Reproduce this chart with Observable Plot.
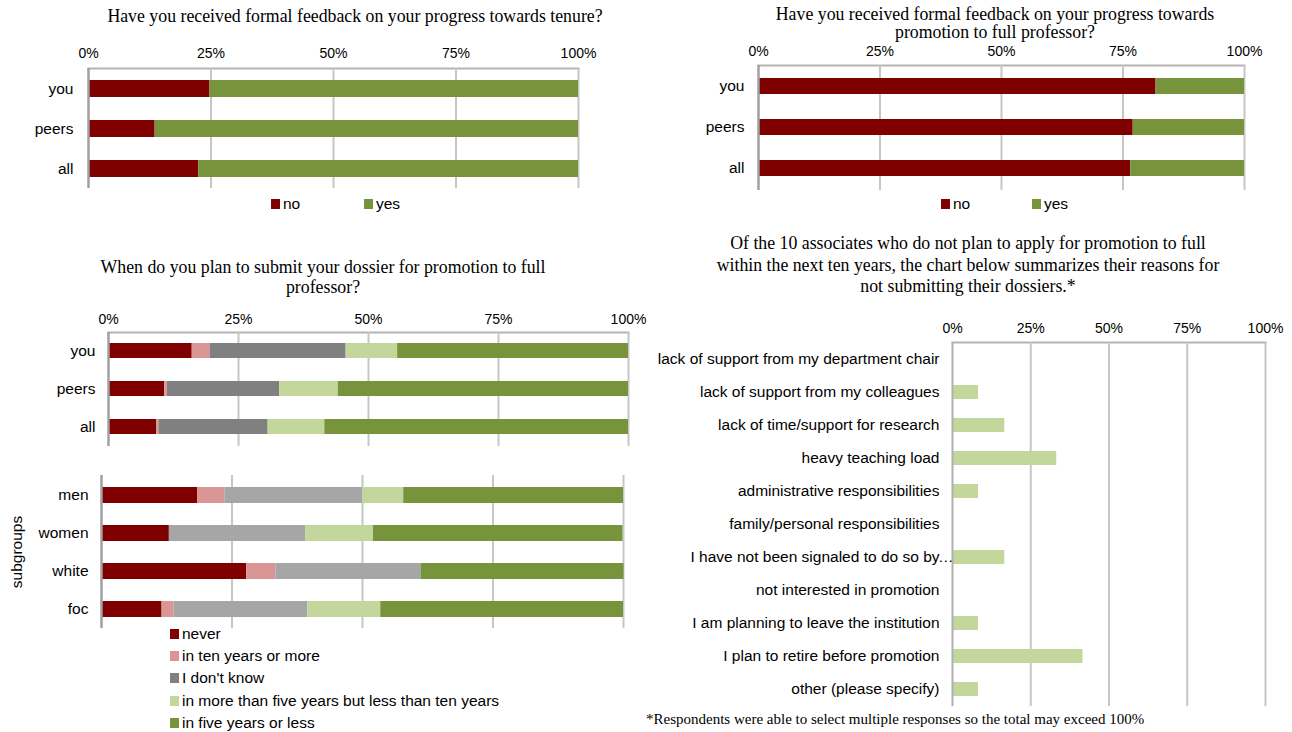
<!DOCTYPE html>
<html><head><meta charset="utf-8">
<script src="https://cdn.jsdelivr.net/npm/d3@7"></script>
<script src="https://cdn.jsdelivr.net/npm/@observablehq/plot@0.6"></script>
<style>
body{margin:0;background:#fff;}
#root{position:relative;width:1292px;height:732px;overflow:hidden;background:#fff;font-family:"Liberation Sans",Arial,sans-serif;color:#000;}
.title{position:absolute;font-family:"Liberation Serif","Times New Roman",serif;font-size:17.8px;text-align:center;color:#000;white-space:nowrap;}
.leg{position:absolute;font-size:15.5px;display:flex;align-items:center;white-space:nowrap;line-height:16px;height:16px;}
.sw{display:inline-block;width:9px;height:10px;margin-right:3px;}
.plot{position:absolute;}
</style></head><body><div id="root"></div>
<script>
// ---------- data ----------
const groups = ["you", "peers", "all"];
const answers = ["no", "yes"];
const answerColors = ["#800000", "#77933c"];
const tenureNo = [24.8, 13.6, 22.5];
const tenureYes = [75.2, 86.4, 77.5];
const promoNo = [81.8, 77.1, 76.6];
const promoYes = [18.2, 22.9, 23.4];

const timing = ["never", "in ten years or more", "I don't know",
  "in more than five years but less than ten years", "in five years or less"];
const timingColors = ["#800000", "#d99694", "#808080", "#c3d69b", "#77933c"];
const subgroupColors = ["#800000", "#d99694", "#a6a6a6", "#c3d69b", "#77933c"];
const planNever = [16.1, 10.8, 9.3];
const planTenPlus = [3.5, 0.5, 0.4];
const planDontKnow = [26.1, 21.6, 21.0];
const planFiveToTen = [9.9, 11.3, 10.9];
const planFiveOrLess = [44.4, 55.8, 58.4];

const subgroups = ["men", "women", "white", "foc"];
const subNever = [18.4, 13.0, 27.8, 11.6];
const subTenPlus = [5.3, 0, 5.6, 2.3];
const subDontKnow = [26.3, 26.1, 27.8, 25.6];
const subFiveToTen = [7.9, 13.0, 0, 14.0];
const subFiveOrLess = [42.1, 47.8, 38.9, 46.5];

const reasons = ["lack of support from my department chair", "lack of support from my colleagues",
  "lack of time/support for research", "heavy teaching load", "administrative responsibilities",
  "family/personal responsibilities", "I have not been signaled to do so by\u2026",
  "not interested in promotion", "I am planning to leave the institution",
  "I plan to retire before promotion", "other (please specify)"];
const reasonShare = [0, 8.3, 16.7, 33.3, 8.3, 0, 16.7, 0, 8.3, 41.7, 8.3];
const reasonColor = "#c3d69b";

const pctTicks = [0, 25, 50, 75, 100];
const tickLabels = ["0%", "25%", "50%", "75%", "100%"];

const titles = {
  tenure: ["Have you received formal feedback on your progress towards tenure?"],
  promo: ["Have you received formal feedback on your progress towards", "promotion to full professor?"],
  plan: ["When do you plan to submit your dossier for promotion to full", "professor?"],
  reasons: ["Of the 10 associates who do not plan to apply for promotion to full",
    "within the next ten years, the chart below summarizes their reasons for",
    "not submitting their dossiers.*"]
};
const footnote = "*Respondents were able to select multiple responses so the total may exceed 100%";

// ---------- helpers ----------
const root = document.getElementById("root");
const fmtTick = d => tickLabels[pctTicks.indexOf(d)];
const plotStyle = {fontFamily: "Liberation Sans, Arial, sans-serif", fontSize: "15px", color: "#000", background: "transparent", overflow: "visible"};

function place(el, left, top) {
  el.classList.add("plot");
  el.style.left = left + "px";
  el.style.top = top + "px";
  root.appendChild(el);
}

function stacked(o) {
  const data = [];
  o.cats.forEach((c, i) => o.series.forEach((s, j) => data.push({cat: c, series: s, value: o.values[j][i]})));
  const marks = [
    Plot.ruleX([25, 50, 75, 100], {stroke: "#c6c6c6", strokeWidth: 2}),
    Plot.barX(data, {x: "value", y: "cat", fill: "series"}),
    Plot.ruleX([0], {stroke: "#a0a0a0", strokeWidth: 2.5}),
    Plot.axisY({tickSize: 0, tickPadding: o.yPad, fontSize: 15.5, label: o.yLabel || null,
      labelAnchor: "center", labelOffset: o.labelOffset || 0})
  ];
  if (o.topLine) marks.unshift(Plot.frame({anchor: "top", stroke: "#b4b4b4", strokeWidth: 2}));
  if (o.topAxis) marks.push(Plot.axisX({anchor: "top", ticks: pctTicks, tickFormat: fmtTick, tickSize: 0, tickPadding: o.xPad, fontSize: 14, label: null}));
  const p = Plot.plot({
    width: o.width, height: o.height,
    marginLeft: o.mL, marginRight: o.mR, marginTop: o.mT, marginBottom: o.mB,
    style: plotStyle,
    x: {domain: [0, 100], axis: o.topAxis ? undefined : null},
    y: {domain: o.cats, paddingInner: o.pi, paddingOuter: o.pi / 2},
    color: {domain: o.series, range: o.colors},
    marks
  });
  place(p, o.left, o.top);
}

function title(lines, cx, top, lh, w) {
  const d = document.createElement("div");
  d.className = "title";
  d.style.left = (cx - w / 2) + "px";
  d.style.width = w + "px";
  d.style.top = top + "px";
  d.style.lineHeight = lh + "px";
  d.innerHTML = lines.map(l => l.replace(/&/g, "&amp;")).join("<br>");
  root.appendChild(d);
}

function legendItem(label, color, left, cy) {
  const d = document.createElement("div");
  d.className = "leg";
  d.style.left = left + "px";
  d.style.top = (cy - 8) + "px";
  const s = document.createElement("span");
  s.className = "sw";
  s.style.background = color;
  d.appendChild(s);
  d.appendChild(document.createTextNode(label));
  root.appendChild(d);
}

// ---------- panel 1: tenure feedback ----------
title(titles.tenure, 355, 6, 20, 700);
stacked({cats: groups, series: answers, values: [tenureNo, tenureYes], colors: answerColors,
  left: 0, top: 40, width: 600, height: 150, mL: 88, mR: 22, mT: 28, mB: 2, pi: 0.58,
  topAxis: true, xPad: 11, yPad: 15, topLine: true});
legendItem(answers[0], answerColors[0], 271, 204);
legendItem(answers[1], answerColors[1], 364, 204);

// ---------- panel 2: promotion feedback ----------
title(titles.promo, 995, 5, 18, 600);
stacked({cats: groups, series: answers, values: [promoNo, promoYes], colors: answerColors,
  left: 660, top: 40, width: 604, height: 152, mL: 98, mR: 20, mT: 25, mB: 2, pi: 0.6,
  topAxis: true, xPad: 10, yPad: 14, topLine: true});
legendItem(answers[0], answerColors[0], 941, 204);
legendItem(answers[1], answerColors[1], 1032, 204);

// ---------- panel 3: plan to submit ----------
title(titles.plan, 323, 257, 20, 640);
stacked({cats: groups, series: timing,
  values: [planNever, planTenPlus, planDontKnow, planFiveToTen, planFiveOrLess], colors: timingColors,
  left: 0, top: 300, width: 650, height: 148, mL: 108, mR: 22, mT: 32, mB: 2, pi: 0.6,
  topAxis: true, xPad: 9, yPad: 13, topLine: true});

// ---------- panel 4: subgroups ----------
stacked({cats: subgroups, series: timing,
  values: [subNever, subTenPlus, subDontKnow, subFiveToTen, subFiveOrLess], colors: subgroupColors,
  left: 0, top: 470, width: 651, height: 160, mL: 101, mR: 28, mT: 5, mB: 2, pi: 0.58,
  topAxis: false, yPad: 13, topLine: false, yLabel: "subgroups", labelOffset: 91});
[634, 656, 678, 701, 723].forEach((cy, i) => legendItem(timing[i], timingColors[i], 170, cy));

// ---------- panel 5: reasons ----------
title(titles.reasons, 968, 233, 21.5, 640);
{
  const data = reasons.map((r, i) => ({reason: r, share: reasonShare[i]}));
  const p = Plot.plot({
    width: 645, height: 408, marginLeft: 312, marginRight: 20, marginTop: 42, marginBottom: 2,
    style: plotStyle,
    x: {domain: [0, 100]},
    y: {domain: reasons, paddingInner: 0.58, paddingOuter: 0.29},
    marks: [
      Plot.frame({anchor: "top", stroke: "#b4b4b4", strokeWidth: 2}),
      Plot.ruleX([25, 50, 75, 100], {stroke: "#c6c6c6", strokeWidth: 2}),
      Plot.barX(data, {x: "share", y: "reason", fill: reasonColor}),
      Plot.ruleX([0], {stroke: "#b0b0b0", strokeWidth: 2}),
      Plot.axisX({anchor: "top", ticks: pctTicks, tickFormat: fmtTick, tickSize: 0, tickPadding: 10, fontSize: 14, label: null}),
      Plot.axisY({tickSize: 0, tickPadding: 13, fontSize: 15.5, label: null, tickFormat: d => d.replace("\u2026", "")}),
      Plot.text(reasons.filter(r => r.endsWith("\u2026")), {x: 0, y: d => d, text: () => "\u2026", textAnchor: "end", dx: 1, fontSize: 15.5})
    ]
  });
  place(p, 640, 300);
}
{
  const d = document.createElement("div");
  d.className = "title";
  d.style.left = "646px";
  d.style.top = "710px";
  d.style.fontSize = "15px";
  d.style.lineHeight = "18px";
  d.style.textAlign = "left";
  d.textContent = footnote;
  root.appendChild(d);
}
</script></body></html>
